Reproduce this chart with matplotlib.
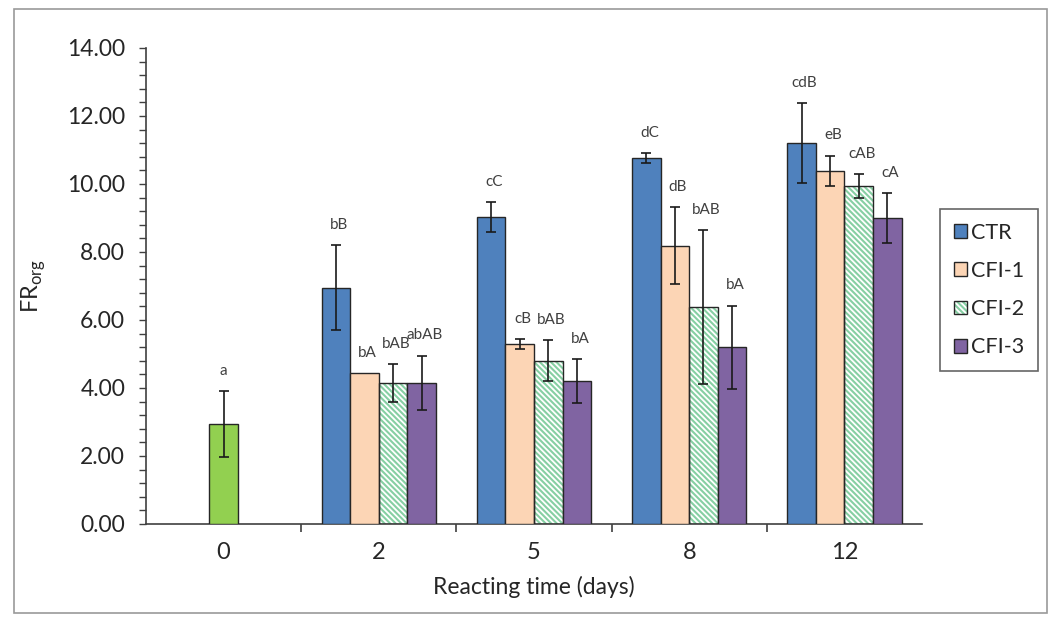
from matplotlib import pyplot as plt
from matplotlib.patches import Patch, Rectangle
from matplotlib.ticker import MultipleLocator, FormatStrFormatter
import numpy as np

# values
days = ['0', '2', '5', '8', '12']
day0_mean = 2.95
day0_err = 0.97
day0_label = 'a'

series_names = ['CTR', 'CFI-1', 'CFI-2', 'CFI-3']
ctr = [6.95, 9.03, 10.76, 11.20]
ctr_err = [1.25, 0.44, 0.15, 1.17]
ctr_labels = ['bB', 'cC', 'dC', 'cdB']
cfi1 = [4.44, 5.29, 8.18, 10.38]
cfi1_err = [0.0, 0.15, 1.13, 0.45]
cfi1_labels = ['bA', 'cB', 'dB', 'eB']
cfi2 = [4.15, 4.80, 6.38, 9.94]
cfi2_err = [0.55, 0.60, 2.27, 0.35]
cfi2_labels = ['bAB', 'bAB', 'bAB', 'cAB']
cfi3 = [4.15, 4.20, 5.20, 9.00]
cfi3_err = [0.80, 0.65, 1.22, 0.73]
cfi3_labels = ['abAB', 'bA', 'bA', 'cA']

plt.rcParams['font.family'] = ['Lato', 'DejaVu Sans']
plt.rcParams['hatch.color'] = '#86cfa3'
plt.rcParams['hatch.linewidth'] = 1.5

colors = ['#4f81bd', '#fcd5b5', 'white', '#8064a2']
edge = '#262626'
txt = '#262626'
lab = '#404040'
hatch = '\\' * 6

fig = plt.figure(figsize=(10.52, 6.22), dpi=100)
ax = fig.add_axes([146 / 1052, 98 / 622, 776 / 1052, 476 / 622])

w = 0.184
err_kw = dict(fmt='none', ecolor='#1a1a1a', elinewidth=1.2, capsize=3.6,
              capthick=1.2, zorder=4)
label_kw = dict(ha='center', va='center', fontsize=11, color=lab)

# day 0 bar
ax.bar(0, day0_mean, w, color='#92d050', edgecolor=edge, linewidth=1,
       zorder=3)
ax.errorbar(0, day0_mean, yerr=day0_err, **err_kw)
ax.text(0, day0_mean + day0_err + 0.58, day0_label, **label_kw)

x = np.arange(1, len(days))
data = [(ctr, ctr_err, ctr_labels), (cfi1, cfi1_err, cfi1_labels),
        (cfi2, cfi2_err, cfi2_labels), (cfi3, cfi3_err, cfi3_labels)]
for k, (vals, errs, labs) in enumerate(data):
    xs = x + (k - 1.5) * w
    if series_names[k] == 'CFI-2':
        ax.bar(xs, vals, w, color='white', hatch=hatch, linewidth=0,
               zorder=2)
        ax.bar(xs, vals, w, color='none', edgecolor=edge, linewidth=1,
               zorder=3)
    else:
        ax.bar(xs, vals, w, color=colors[k], edgecolor=edge, linewidth=1,
               zorder=3)
    # no error bar is drawn where the spread is zero
    shown = [e if e > 0 else np.nan for e in errs]
    ax.errorbar(xs, vals, yerr=shown, **err_kw)
    for xi, v, e, t in zip(xs, vals, errs, labs):
        ax.text(xi + 0.02, v + e + 0.6, t, **label_kw)

ax.set_xlim(-0.5, len(days) - 0.5)
ax.set_ylim(0, 14)
ax.spines['top'].set_visible(False)
ax.spines['right'].set_visible(False)
for s in ('left', 'bottom'):
    ax.spines[s].set_color('#404040')
    ax.spines[s].set_linewidth(1.2)

ax.yaxis.set_major_locator(MultipleLocator(2))
ax.yaxis.set_minor_locator(MultipleLocator(0.4))
ax.yaxis.set_major_formatter(FormatStrFormatter('%.2f'))
ax.tick_params(axis='y', which='both', direction='out', length=5,
               width=1, color='#404040', labelsize=16.5, labelcolor=txt,
               pad=10)

ax.set_xticks(range(len(days)))
ax.set_xticklabels(days)
ax.set_xticks(np.arange(0.5, len(days) - 1), minor=True)
ax.tick_params(axis='x', which='major', length=0, labelsize=17,
               labelcolor=txt, pad=13)
ax.tick_params(axis='x', which='minor', direction='out', length=6, width=1.2,
               color='#404040')

ax.set_xlabel('Reacting time (days)', fontsize=16.5, color=txt, labelpad=9)
ax.set_ylabel('FR$_{\\mathregular{org}}$', fontsize=17, color=txt,
              labelpad=14)

handles = [Patch(facecolor=colors[0], edgecolor=edge),
           Patch(facecolor=colors[1], edgecolor=edge),
           (Patch(facecolor='white', hatch=hatch, linewidth=0),
            Patch(facecolor='none', edgecolor=edge)),
           Patch(facecolor=colors[3], edgecolor=edge)]
leg = fig.legend(handles, series_names, loc='center left',
                 bbox_to_anchor=(940 / 1052, (622 - 290) / 622),
                 fontsize=15.5, frameon=True, fancybox=False,
                 handlelength=0.6, handleheight=0.6, handletextpad=0.2,
                 labelspacing=0.85, borderpad=0.65, borderaxespad=0,
                 labelcolor=txt)
leg.get_frame().set_edgecolor('#404040')
leg.get_frame().set_linewidth(1.2)

fig.patches.append(Rectangle((14 / 1052, 9 / 622), 1033 / 1052, 604 / 622,
                             transform=fig.transFigure, fill=False,
                             edgecolor='#9a9a9a', linewidth=1.2))

fig.savefig('out.png', dpi=100)
